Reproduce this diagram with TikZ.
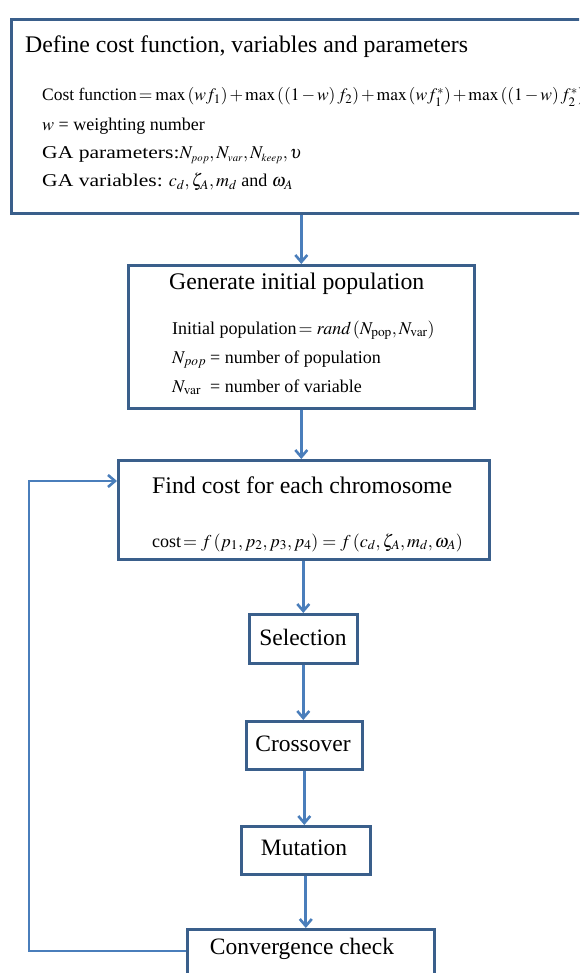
\documentclass[tikz,border=0pt]{standalone}
\usepackage{mathptmx}
\usepackage[no-math]{fontspec}
\setmainfont{Liberation Serif}
\newfontfamily\widefont[FakeStretch=1.2]{Liberation Serif}
\usetikzlibrary{arrows.meta}
\definecolor{boxblue}{HTML}{3A5F8B}
\definecolor{arrowblue}{HTML}{4A7EBB}
\tikzset{
  box/.style={draw=boxblue, line width=2.6pt, rectangle, inner sep=0pt, anchor=north west},
  conn/.style={draw=arrowblue, line width=2.8pt, -{Straight Barb[length=7pt,width=12pt,line width=2.6pt]}},
  ttl/.style={font=\fontsize{23.8}{28}\selectfont, inner sep=0pt, anchor=base west},
  body/.style={font=\fontsize{18}{21}\selectfont, inner sep=0pt, anchor=base west},
  eqline/.style={font=\fontsize{17.5}{20}\selectfont, inner sep=0pt, anchor=base west},
  small/.style={font=\fontsize{23.5}{27}\selectfont, inner sep=0pt},
}
\begin{document}
\begin{tikzpicture}[x=1pt,y=-1pt]
\useasboundingbox (0,0) rectangle (579,973);
\clip (0,0) rectangle (579,973);
% boxes
\node[box, minimum width=610pt, minimum height=194pt] (def) at (10,18) {};
\node[box, minimum width=346pt, minimum height=143pt] (gen) at (127,264) {};
\node[box, minimum width=371pt, minimum height=99pt] (find) at (117,459) {};
\node[box, minimum width=108pt, minimum height=49pt] (sel) at (248,613) {};
\node[box, minimum width=116pt, minimum height=48pt] (cross) at (245,720) {};
\node[box, minimum width=129pt, minimum height=48pt] (mut) at (240,825) {};
\node[box, minimum width=247pt, minimum height=80pt] (conv) at (186,928) {};
% texts: definition box
\node[eqline] (defl1) at (42,101) {\medmuskip=2mu\thickmuskip=3mu Cost function$\,=\max\left(wf_1\right)+\max\left(\left(1-w\right)f_2\right)+\max\left(wf_1^{*}\right)+\max\left(\left(1-w\right)f_2^{*}\right)$};
\node[ttl] (deft) at (25,53) {Define cost function, variables and parameters};
\node[body] (defl2) at (42,131) {$w$ = weighting number};
\node[body] (defl3) at (42,159) {{\widefont GA parameters:}$N_{\scriptscriptstyle pop},N_{\scriptscriptstyle var},N_{\scriptscriptstyle keep},\upsilon$};
\node[body] (defl4) at (42,187) {{\widefont GA variables:} $c_d,\zeta_A,m_d$ and $\omega_A$};
% generate box
\node[ttl] (gent) at (169,290) {Generate initial population};
\node[body] (genl1) at (172,334) {Initial population$\,=\mathit{rand}\,(N_{\mathrm{pop}},N_{\mathrm{var}})$};
\node[body] (genl2) at (172,363) {\makebox[38pt][l]{$N_{pop}$}= number of population};
\node[body] (genl3) at (172,392) {\makebox[38pt][l]{$N_{\mathrm{var}}$}= number of variable};
% find box
\node[ttl] (findt) at (152,493) {Find cost for each chromosome};
\node[body] (findl1) at (152,547) {cost$\,=f\left(p_1,p_2,p_3,p_4\right)=f\left(c_d,\zeta_A,m_d,\omega_A\right)$};
% small boxes texts
\node[small] (selt) at (303,637) {Selection};
\node[small] (crosst) at (303,744) {Crossover};
\node[small] (mutt) at (304,848) {Mutation};
\node[small] (convt) at (302,949) {Convergence check};
% connectors
\draw[conn] (gen.north |- def.south) -- (gen.north);
\draw[conn] (gen.south) -- (gen.south |- find.north);
\draw[conn] (sel.north |- find.south) -- (sel.north);
\draw[conn] (sel.south) -- (sel.south |- cross.north);
\draw[conn] (cross.south) -- (cross.south |- mut.north);
\draw[conn] (mut.south) -- (mut.south |- conv.north);
\coordinate (lp) at (29,951);
\coordinate (lt) at (29,481);
\draw[conn] (conv.west |- lp) -- (lp) -- (lt) -- (find.west |- lt);
\end{tikzpicture}
\end{document}
